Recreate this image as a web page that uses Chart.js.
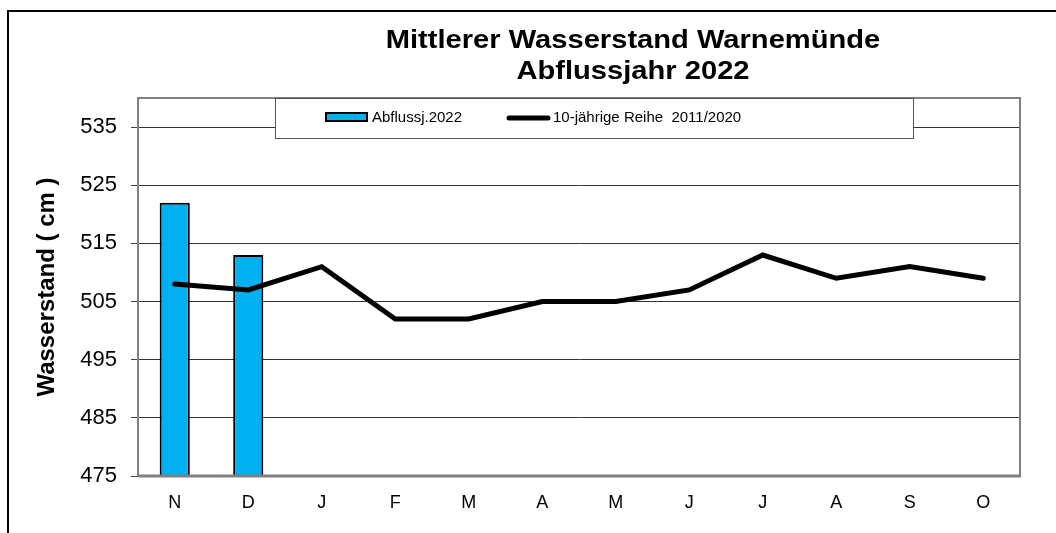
<!DOCTYPE html>
<html>
<head>
<meta charset="utf-8">
<script src="https://cdn.jsdelivr.net/npm/chart.js@4.4.1/dist/chart.umd.min.js"></script>
<style>
  html, body { margin: 0; padding: 0; background: #fff; }
  #wrap { width: 1056px; height: 533px; }
</style>
</head>
<body>
<div id="wrap"><canvas id="chart" width="1056" height="533"></canvas></div>
<script>
// data
const months = ['N', 'D', 'J', 'F', 'M', 'A', 'M', 'J', 'J', 'A', 'S', 'O'];
const year2022 = [522, 513, null, null, null, null, null, null, null, null, null, null];
const mean2011_2020 = [508, 507, 511, 502, 502, 505, 505, 507, 513, 509, 511, 509];
const yTicks = [475, 485, 495, 505, 515, 525, 535];
const titleLines = ['Mittlerer Wasserstand Warnemünde', 'Abflussjahr 2022'];

const FONT = '"Liberation Sans", Arial, sans-serif';

// frame, plot border, title and the boxed legend
const decor = {
  id: 'decor',
  beforeDraw(chart) {
    const ctx = chart.ctx;
    ctx.save();
    ctx.fillStyle = '#fff';
    ctx.fillRect(0, 0, chart.width, chart.height);
    ctx.restore();
  },
  afterDraw(chart) {
    const ctx = chart.ctx;
    const a = chart.chartArea;
    ctx.save();

    // outer frame (only left + top visible)
    ctx.strokeStyle = '#000';
    ctx.lineWidth = 2;
    ctx.beginPath();
    ctx.moveTo(8, chart.height + 5);
    ctx.lineTo(8, 11);
    ctx.lineTo(chart.width + 5, 11);
    ctx.stroke();

    // plot area border
    ctx.strokeStyle = '#808080';
    ctx.lineWidth = 2;
    ctx.beginPath();
    ctx.moveTo(a.left, a.top);
    ctx.lineTo(a.right, a.top);
    ctx.lineTo(a.right, a.bottom);
    ctx.stroke();
    ctx.lineWidth = 3;
    ctx.beginPath();
    ctx.moveTo(a.left, a.bottom);
    ctx.lineTo(a.right + 1, a.bottom);
    ctx.stroke();

    // title
    ctx.fillStyle = '#000';
    ctx.font = 'bold 26px ' + FONT;
    ctx.textAlign = 'center';
    ctx.textBaseline = 'middle';
    ctx.save();
    ctx.translate(633, 0);
    ctx.scale(1.12, 1);
    ctx.fillText(titleLines[0], 0, 41);
    ctx.fillText(titleLines[1], 0, 72);
    ctx.restore();

    // legend box
    const lx = 275, ly = 98, lw = 638, lh = 40;
    ctx.fillStyle = '#fff';
    ctx.fillRect(lx, ly, lw, lh);
    ctx.strokeStyle = '#555';
    ctx.lineWidth = 1;
    ctx.strokeRect(lx + 0.5, ly + 0.5, lw, lh);

    const ds = chart.data.datasets;
    ctx.font = '15px ' + FONT;
    ctx.textAlign = 'left';
    // bar swatch
    ctx.fillStyle = ds[0].backgroundColor;
    ctx.fillRect(326, 113, 41, 8);
    ctx.strokeStyle = '#000';
    ctx.lineWidth = 2;
    ctx.strokeRect(326, 113, 41, 8);
    ctx.fillStyle = '#000';
    ctx.fillText(ds[0].label, 372, 118);
    // line swatch
    ctx.strokeStyle = ds[1].borderColor;
    ctx.lineWidth = 5;
    ctx.lineCap = 'round';
    ctx.beginPath();
    ctx.moveTo(509, 118);
    ctx.lineTo(548, 118);
    ctx.stroke();
    ctx.fillText(ds[1].label, 553, 118);

    ctx.restore();
  }
};

new Chart(document.getElementById('chart').getContext('2d'), {
  data: {
    labels: months,
    datasets: [{
      type: 'bar',
      label: 'Abflussj.2022',
      data: year2022,
      backgroundColor: '#00b0f0',
      borderColor: '#000',
      borderWidth: 2,
      categoryPercentage: 1,
      barPercentage: 0.41,
      order: 2
    }, {
      type: 'line',
      label: '10-jährige Reihe  2011/2020',
      data: mean2011_2020,
      borderColor: '#000',
      borderWidth: 5,
      borderCapStyle: 'round',
      pointRadius: 0,
      tension: 0,
      order: 1
    }]
  },
  options: {
    responsive: false,
    animation: false,
    layout: { padding: { left: 0, top: 98, right: 36, bottom: 0 } },
    plugins: {
      legend: { display: false },
      title: { display: false },
      tooltip: { enabled: false }
    },
    scales: {
      x: {
        grid: { display: false },
        border: { display: false },
        ticks: { color: '#000', font: { family: FONT, size: 18 }, padding: 8 },
        afterFit: s => { s.height = 57; }
      },
      y: {
        min: 475,
        max: 540,
        afterBuildTicks: s => { s.ticks = yTicks.map(v => ({ value: v })); },
        grid: {
          color: '#333',
          lineWidth: 1,
          borderDash: [1, 1],
          tickLength: 7,
          tickColor: '#444',
          tickBorderDash: []
        },
        border: { display: true, color: '#808080', width: 2 },
        ticks: { color: '#000', font: { family: FONT, size: 22 }, padding: 14 },
        title: {
          display: true,
          text: 'Wasserstand ( cm )',
          color: '#000',
          font: { family: FONT, size: 24, weight: 'bold' },
          padding: { top: 33, bottom: 0 }
        },
        afterFit: s => { s.width = 138; }
      }
    }
  },
  plugins: [decor]
});
</script>
</body>
</html>
